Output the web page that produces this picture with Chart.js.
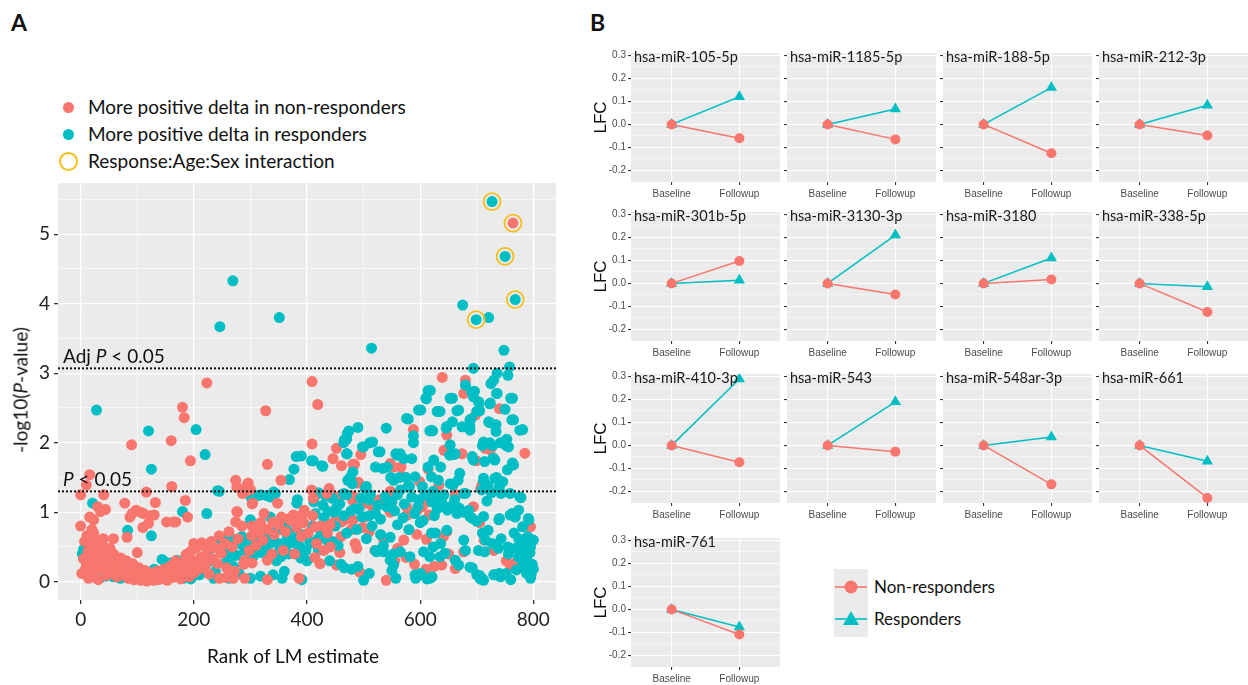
<!DOCTYPE html>
<html>
<head>
<meta charset="utf-8">
<script src="https://cdn.jsdelivr.net/npm/chart.js@4.4.0/dist/chart.umd.min.js"></script>
<style>
  body { margin: 0; width: 1248px; height: 685px; position: relative; overflow: hidden; background: #fff; font-family: Lato, sans-serif; color: #111; }
  .abs { position: absolute; }
  .panelLetter { font: bold 23px Lato; }
  .legA { position: absolute; left: 88px; font: 19px Lato; line-height: 24px; white-space: nowrap; }
  .dotA { position: absolute; width: 11px; height: 11px; border-radius: 50%; }
  .strip { position: absolute; font: 14.5px Lato; line-height: 22px; white-space: nowrap; color: #1a1a1a; }
  .legB { position: absolute; left: 874px; font: 17px Lato; line-height: 22px; white-space: nowrap; }
</style>
</head>
<body>

<div class="abs panelLetter" style="left:11px;top:8px">A</div>
<div class="abs panelLetter" style="left:590px;top:8px">B</div>

<div class="dotA" style="left:63px;top:102px;background:#F8766D"></div>
<div class="legA" style="top:95px">More positive delta in non-responders</div>
<div class="dotA" style="left:63px;top:129px;background:#00BFC4"></div>
<div class="legA" style="top:122px">More positive delta in responders</div>
<div class="dotA" style="left:59px;top:152px;width:15px;height:15px;border:2px solid #F5BE1A;background:none"></div>
<div class="legA" style="top:149px">Response:Age:Sex interaction</div>

<canvas id="chartA" class="abs" style="left:0;top:0" width="580" height="685"></canvas>

<div class="abs" style="left:8px;top:390px;width:0;height:0">
  <div style="position:absolute;transform:translate(-50%,-50%) rotate(-90deg);font:19px Lato;white-space:nowrap;left:12px;top:0">-log10(<i>P</i>-value)</div>
</div>
<div class="abs" style="left:207px;top:644px;font:19px Lato;white-space:nowrap">Rank of LM estimate</div>

<div class="abs" style="left:834px;top:569px;width:34px;height:68px;background:#EBEBEB">
  <svg width="34" height="68">
    <line x1="1" y1="18" x2="33" y2="18" stroke="#F8766D" stroke-width="1.6"/>
    <circle cx="17" cy="18" r="6.5" fill="#F8766D"/>
    <line x1="1" y1="50" x2="33" y2="50" stroke="#00BFC4" stroke-width="1.6"/>
    <polygon points="17,42 25,56 9,56" fill="#00BFC4"/>
  </svg>
</div>
<div class="legB" style="top:576px">Non-responders</div>
<div class="legB" style="top:608px">Responders</div>

<script>
// panel A: [rank of LM estimate, -log10(P)]
const nonRespPts = [
  [764,5.16],[639,2.94],[680,2.90],[677,2.71],[740,2.49],[698,2.40],[223,2.86],[409,2.88],[419,2.55],[180,2.51],
  [183,2.36],[327,2.46],[588,2.19],[90,1.97],[160,2.03],[194,1.74],[330,1.69],[409,1.98],[452,1.92],[446,1.77],
  [495,1.83],[484,1.69],[547,1.70],[566,1.65],[647,2.11],[642,1.89],[674,1.84],[699,1.74],[715,1.92],[724,1.90],
  [785,1.85],[354,1.46],[461,1.67],[481,1.69],[491,1.43],[553,1.65],[599,1.44],[614,1.62],[633,1.39],[662,1.25],
  [707,1.34],[694,1.08],[795,0.79],[647,0.72],[641,0.65],[713,0.60],[677,0.43],[638,0.24],[662,0.19],[759,0.24],
  [0,1.25],[16,1.54],[10,1.39],[41,1.25],[30,1.08],[16,0.93],[44,1.04],[0,0.80],[78,1.13],[87,0.93],
  [98,1.03],[111,0.98],[116,1.29],[132,1.14],[123,0.95],[110,0.78],[152,0.86],[161,1.37],[185,1.17],[189,0.93],
  [168,0.86],[274,1.46],[276,1.36],[292,1.30],[294,1.39],[304,1.13],[324,0.98],[276,1.01],[348,1.13],[395,1.03],
  [369,0.91],[408,1.32],[455,1.18],[439,1.34],[481,1.23],[490,1.42],[516,1.08],[528,1.18],[547,1.30],[569,1.51],
  [576,1.08],[595,1.03],[614,1.16],[631,1.10],[664,1.25],[709,1.39],[35,1.01],[91,0.98],[106,1.00],[130,0.96],
  [23,0.89],[120,0.84],[164,0.86],[23,0.70],[40,0.62],[58,0.62],[82,0.64],[100,0.42],[300,1.33],[296,1.42],
  [286,1.27],[303,1.12],[277,1.00],[274,0.86],[379,0.89],[392,0.97],[376,0.96],[303,0.80],[309,0.75],[318,0.85],
  [340,0.86],[355,0.93],[200,0.55],[188,0.40],[198,0.30],[212,0.35],[290,0.31],[303,0.27],[330,0.31],[245,0.05],
  [257,0.06],[270,0.05],[290,0.05],[330,0.03],[386,0.05],[411,1.20],[435,1.27],[452,1.22],[481,1.17],[505,1.13],
  [529,1.15],[547,1.00],[604,1.08],[616,0.96],[414,0.79],[441,0.82],[461,0.86],[481,0.89],[502,0.93],[577,0.96],
  [571,0.60],[594,0.68],[611,0.61],[417,0.55],[441,0.50],[458,0.42],[488,0.48],[423,0.26],[452,0.24],[493,0.14],
  [540,0.02],[594,0.07],
  [2,0.12],[5,0.33],[7,0.58],[9,0.20],[11,0.66],[13,0.44],[14,0.05],[16,0.27],[19,0.52],[20,0.75],
  [22,0.14],[24,0.38],[25,0.61],[27,0.24],[29,0.47],[31,0.03],[33,0.33],[34,0.57],[37,0.18],[38,0.41],
  [41,0.50],[43,0.28],[46,0.09],[47,0.36],[50,0.22],[52,0.48],[55,0.13],[56,0.31],[59,0.39],[62,0.20],
  [64,0.07],[66,0.29],[69,0.16],[71,0.34],[74,0.09],[76,0.23],[79,0.12],[81,0.30],[84,0.05],[86,0.19],
  [89,0.10],[92,0.26],[94,0.03],[97,0.15],[100,0.07],[103,0.20],[106,0.02],[108,0.11],[111,0.05],[114,0.16],
  [117,0.01],[120,0.09],[123,0.04],[126,0.13],[129,0.02],[132,0.07],[135,0.15],[138,0.03],[141,0.10],[144,0.05],
  [147,0.18],[150,0.07],[153,0.02],[156,0.12],[159,0.23],[162,0.06],[165,0.16],[168,0.30],[171,0.09],[174,0.21],
  [177,0.04],[180,0.27],[183,0.13],[186,0.38],[189,0.19],[192,0.07],[195,0.44],[198,0.24],[201,0.13],[205,0.49],
  [208,0.30],[211,0.19],[214,0.56],[217,0.36],[221,0.24],[224,0.46],[227,0.11],[231,0.58],[234,0.33],[238,0.49],
  [242,0.26],[245,0.66],[249,0.41],
  [255,0.55],[258,0.20],[262,0.72],[268,0.50],[272,0.15],[278,0.62],[285,0.80],[288,0.25],
  [298,0.45],[302,0.66],[310,0.52],[314,0.70],[322,0.60],[330,0.75],
  [338,0.40],[342,0.68],[350,0.82],[358,0.45],[362,0.72],[370,0.88],
  [378,0.40],[382,0.78],[390,0.65],[394,0.85],[402,0.70],[410,0.95],
  [414,0.35],[425,0.80],[430,0.45],[436,0.70],[450,0.88],[460,0.65],[470,0.90],[478,0.75],
  [485,0.55],[498,0.78],[510,0.72],[520,0.45],[535,0.62],[555,0.30],[560,0.48],[575,0.35],[590,0.25],[610,0.18],
  [625,0.22],[650,0.40],[705,0.85],[730,0.45],[752,0.30],[770,0.28]
];

const respPts = [
  [727,5.47],[750,4.68],[768,4.06],[699,3.77],[675,3.98],[721,3.80],[269,4.33],[246,3.67],[351,3.80],[514,3.36],
  [748,3.33],[694,3.07],[758,3.09],[736,3.00],[725,2.85],[730,2.90],[755,2.97],[680,2.83],[696,2.74],[736,2.71],
  [763,2.64],[657,2.64],[618,2.75],[611,2.63],[704,2.57],[724,2.57],[750,2.48],[601,2.47],[635,2.45],[668,2.47],
  [705,2.46],[690,2.34],[579,2.34],[765,2.33],[721,2.30],[657,2.30],[734,2.26],[28,2.47],[120,2.17],[204,2.19],
  [490,2.22],[540,2.21],[620,2.18],[474,2.17],[646,2.21],[674,2.23],[781,2.19],
  [220,1.83],[125,1.62],[411,1.74],[428,1.66],[381,1.80],[390,1.81],[377,1.62],[369,1.47],[465,2.00],[470,2.05],
  [470,1.84],[500,1.94],[516,2.01],[526,1.87],[521,1.65],[542,1.65],[534,1.63],[557,1.84],[565,1.84],[588,2.00],
  [585,1.77],[622,2.17],[647,2.23],[688,2.33],[662,1.84],[652,1.82],[692,1.80],[712,2.01],[734,2.16],[723,2.29],
  [732,1.75],[743,2.00],[753,2.05],[756,1.94],[765,1.68],
  [21,1.13],[83,0.74],[125,0.66],[180,1.01],[223,0.98],[242,1.31],[300,1.23],[313,1.24],[329,1.24],[341,1.29],
  [335,1.22],[300,0.89],[383,1.18],[414,1.23],[433,1.23],[437,1.01],[452,1.06],[465,1.27],[472,1.46],[481,1.58],
  [503,1.34],[509,1.18],[521,0.98],[497,0.93],[541,1.08],[553,1.46],[565,1.32],[579,1.37],[591,1.51],[598,1.18],
  [604,1.37],[623,1.30],[642,1.25],[648,1.03],[658,1.39],[661,1.18],[669,1.06],[680,1.27],[686,1.03],[692,0.91],
  [709,1.32],[718,1.16],[712,1.49],[732,1.49],[740,1.37],[746,1.44],[759,1.27],[778,1.21],[768,0.93],[791,0.91],
  [762,0.98],[740,0.91],[781,0.79],
  [408,1.74],[245,1.30],[318,1.25],[344,1.27],[382,1.13],[335,0.93],[376,0.88],[260,0.64],[272,0.60],[266,0.62],
  [242,0.58],[361,0.79],[355,0.75],[331,0.58],[350,0.55],[365,0.62],[372,0.56],[250,0.43],[275,0.38],[354,0.36],
  [389,0.34],[356,0.05],[391,0.03],[210,0.10],[195,0.04],
  [614,2.75],[610,2.64],[597,2.47],[630,2.45],[576,2.35],[471,2.13],[466,2.04],[588,2.10],[617,2.17],[511,2.00],
  [498,1.94],[471,1.84],[529,1.87],[559,1.82],[571,1.77],[426,1.67],[477,1.51],[480,1.41],[505,1.37],[548,1.50],
  [563,1.50],[575,1.50],[581,1.37],[614,1.65],[620,1.51],[632,1.46],
  [412,1.15],[420,1.28],[428,1.10],[445,1.20],[458,1.12],[470,1.25],[485,1.05],[495,1.20],[512,1.25],[525,1.10],
  [538,1.22],[550,1.15],[560,1.25],[572,1.12],[585,1.22],[596,1.08],[608,1.25],[620,1.15],[630,1.05],
  [415,0.98],[430,0.92],[448,1.00],[465,0.95],[478,1.02],[492,1.05],[510,0.95],[530,0.90],[555,1.02],[570,0.92],
  [590,0.98],[605,0.88],[625,0.95],
  [547,0.64],[565,0.43],[582,0.36],[606,0.43],[617,0.36],[523,0.43],[535,0.43],[466,0.20],[479,0.18],[510,0.12],
  [550,0.16],[557,0.05],[592,0.05],[612,0.04],[500,0.02],[420,0.45],[435,0.60],[455,0.52],[470,0.70],[488,0.75],
  [505,0.62],[515,0.80],[530,0.68],[560,0.82],[580,0.75],[600,0.85],[620,0.70],[440,0.30],[460,0.25],[490,0.22],
  [405,0.55],[410,0.80],[425,0.72],[450,0.80],
  [691,2.73],[694,2.66],[653,2.64],[735,2.71],[760,2.64],[703,2.59],[700,2.45],[723,2.56],[632,2.45],[665,2.46],
  [688,2.23],[688,2.18],[647,2.23],[762,2.33],[776,2.18],[732,2.25],[710,1.96],[723,2.00],[742,2.00],[752,1.96],
  [653,1.97],[659,1.83],[728,1.96],[694,1.75],[714,1.73],[729,1.78],[754,1.61],[763,1.71],[624,1.75],[636,1.65],
  [670,1.56],[667,1.46],[653,1.41],[677,1.27],[712,1.45],[720,1.38],[726,1.28],[735,1.50],[743,1.27],[776,1.22],
  [630,1.20],[638,1.15],[653,1.08],[665,0.98],[677,1.00],[688,0.94],[700,0.87],[712,0.94],[774,1.03],[759,0.96],
  [739,0.89],[792,0.89],[627,0.70],[647,0.74],[677,0.60],[710,0.70],[720,0.74],[715,0.60],[727,0.55],[743,0.62],
  [755,0.50],[766,0.70],[774,0.62],[782,0.55],[790,0.65],[785,0.45],[703,0.45],[714,0.43],[738,0.48],[635,0.36],
  [644,0.41],[662,0.31],[668,0.24],[700,0.10],[706,0.04],[712,0.02],[730,0.10],[742,0.07],[752,0.12],[770,0.17],
  [780,0.20],[792,0.15],[795,0.05],[760,0.03],[621,0.07],[688,0.21],[785,0.30],[790,0.38],[795,0.50],[798,0.25],
  [800,0.60],[788,0.12],[778,0.40],
  [521,0.45],[535,0.52],[553,0.40],[547,0.31],[553,0.24],[591,0.10],[601,0.12],[617,0.05],[623,0.50],[636,0.55],
  [680,0.45],[692,0.20],[705,0.09],[709,0.05],[731,0.10],[740,0.12],[756,0.40],[768,0.48],[774,0.35],[781,0.30],
  [787,0.52],[794,0.42],[800,0.18],[796,0.10],
  [5,0.46],[8,0.31],[17,0.07],[144,0.32],[159,0.27],[170,0.31],[190,0.31],[58,0.07],[35,0.06],[3,0.40],
  [10,0.22],[14,0.50],[28,0.10],[45,0.08],[70,0.05],[100,0.10],[130,0.18],[150,0.28],[165,0.12],[182,0.05],
  [200,0.10],[215,0.20],[225,0.40],[232,0.30],[238,0.15],[252,0.58],[258,0.30],[264,0.48],[270,0.22],[280,0.55],
  [285,0.65],[290,0.45],[296,0.35],[305,0.60],[312,0.50],[320,0.42],[325,0.70],[338,0.65],[345,0.80],[352,0.48],
  [360,0.55],[368,0.40],[375,0.72],[380,0.62],[385,0.45],[395,0.68],[400,0.30],[360,0.15],[340,0.10],[318,0.08],
  [300,0.05],[280,0.12],[262,0.05],[235,0.05],[265,0.35],[295,0.58],[306,0.38],[326,0.48],[334,0.55],[346,0.30],
  [366,0.55],[374,0.62],[386,0.52],[398,0.45],[405,0.58],[420,0.62],[445,0.58]
];

const interactionPts = [[727,5.47],[764,5.16],[750,4.68],[768,4.06],[699,3.77]];
const adjCut = 3.07;
const pCut = 1.30;
const rankTicks = [0,100,200,300,400,500,600,700,800];
const logTicks = [0,0.5,1,1.5,2,2.5,3,3.5,4,4.5,5,5.5];
const layerSplit = 450;   // below this rank the red points sit on top

// panel B: log fold change at follow-up (baseline is 0)
const mirNames = ['hsa-miR-105-5p','hsa-miR-1185-5p','hsa-miR-188-5p','hsa-miR-212-3p',
  'hsa-miR-301b-5p','hsa-miR-3130-3p','hsa-miR-3180','hsa-miR-338-5p',
  'hsa-miR-410-3p','hsa-miR-543','hsa-miR-548ar-3p','hsa-miR-661','hsa-miR-761'];
const timepoints = ['Baseline','Followup'];
const nonRespBase = [0,0,0,0,0,0,0,0,0,0,0,0,0];
const respBase = [0,0,0,0,0,0,0,0,0,0,0,0,0];
const nonRespFollow = [-0.06,-0.065,-0.125,-0.048,0.097,-0.048,0.017,-0.124,-0.073,-0.027,-0.169,-0.228,-0.109];
const respFollow = [0.12,0.067,0.16,0.083,0.014,0.21,0.11,-0.015,0.288,0.189,0.037,-0.069,-0.076];
const lfcTicks = [-0.2,-0.15,-0.1,-0.05,0,0.05,0.1,0.15,0.2,0.25,0.3];

const RED = '#F8766D';
const TEAL = '#00BFC4';

const grayBg = {
  id: 'grayBg',
  beforeDraw(chart) {
    const a = chart.chartArea;
    const c = chart.ctx;
    c.save();
    c.fillStyle = '#EBEBEB';
    c.fillRect(a.left, a.top, a.right - a.left, a.bottom - a.top);
    c.restore();
  }
};

function drawCut(c, x, y, pre) {
  c.save();
  c.fillStyle = '#111';
  c.textBaseline = 'alphabetic';
  c.font = '19px Lato';
  c.fillText(pre, x, y);
  x += c.measureText(pre).width;
  c.font = 'italic 19px Lato';
  c.fillText('P', x, y);
  x += c.measureText('P').width;
  c.font = '19px Lato';
  c.fillText(' < 0.05', x, y);
  c.restore();
}

const cutLabels = {
  id: 'cutLabels',
  afterDatasetsDraw(chart) {
    const y = chart.scales.y;
    const x0 = chart.chartArea.left + 5;
    drawCut(chart.ctx, x0, y.getPixelForValue(adjCut) - 5, 'Adj ');
    drawCut(chart.ctx, x0, y.getPixelForValue(pCut) - 5, '');
  }
};

const toXY = p => ({ x: p[0], y: p[1] });
const lineAt = v => [{ x: -40, y: v }, { x: 840, y: v }];
const isMajor = (v, step) => Math.abs(v / step - Math.round(v / step)) < 1e-6;
const dotSet = (pts, color, order) => ({ data: pts.map(toXY), pointRadius: 5.5, borderWidth: 0, backgroundColor: color, borderColor: color, order: order });

new Chart(document.getElementById('chartA'), {
  type: 'scatter',
  data: {
    datasets: [
      { data: lineAt(adjCut), showLine: true, borderColor: '#111', borderWidth: 2, borderDash: [2, 2], pointRadius: 0, order: 0 },
      { data: lineAt(pCut), showLine: true, borderColor: '#111', borderWidth: 2, borderDash: [2, 2], pointRadius: 0, order: 0 },
      { data: interactionPts.map(toXY), pointRadius: 8.5, borderWidth: 1.8, borderColor: '#F5BE1A', backgroundColor: 'rgba(0,0,0,0)', order: 1 },
      dotSet(nonRespPts.filter(p => p[0] < layerSplit), RED, 2),
      dotSet(respPts, TEAL, 3),
      dotSet(nonRespPts.filter(p => p[0] >= layerSplit), RED, 4)
    ]
  },
  options: {
    responsive: false,
    animation: false,
    events: [],
    layout: { padding: { top: 183, right: 24, left: 0, bottom: 0 }, autoPadding: false },
    plugins: { legend: { display: false }, tooltip: { enabled: false } },
    scales: {
      x: {
        type: 'linear', min: -40, max: 840,
        afterBuildTicks: s => { s.ticks = rankTicks.map(v => ({ value: v })); },
        afterFit: s => { s.height = 85; },
        border: { display: false },
        grid: {
          color: '#fff',
          lineWidth: c => (c.tick && isMajor(c.tick.value, 200)) ? 1.3 : 0.6,
          tickColor: c => (c.tick && isMajor(c.tick.value, 200)) ? '#333' : 'rgba(0,0,0,0)',
          tickLength: 4
        },
        ticks: { autoSkip: false, maxRotation: 0, padding: 4, color: '#222', font: { family: 'Lato', size: 19 },
          callback: v => isMajor(v, 200) ? String(v) : '' }
      },
      y: {
        type: 'linear', min: -0.263, max: 5.737,
        afterBuildTicks: s => { s.ticks = logTicks.map(v => ({ value: v })); },
        afterFit: s => { s.width = 58; },
        border: { display: false },
        grid: {
          color: '#fff',
          lineWidth: c => (c.tick && isMajor(c.tick.value, 1)) ? 1.3 : 0.6,
          tickColor: c => (c.tick && isMajor(c.tick.value, 1)) ? '#333' : 'rgba(0,0,0,0)',
          tickLength: 4
        },
        ticks: { autoSkip: false, padding: 4, color: '#222', font: { family: 'Lato', size: 19 },
          callback: v => isMajor(v, 1) ? String(v) : '' }
      }
    }
  },
  plugins: [grayBg, cutLabels]
});

// panel B small multiples
const colLeft = [631, 787, 943, 1099];
const rowTop = [45, 204, 366, 530];
const cellW = 149;
const cellH = 137;

mirNames.forEach((name, i) => {
  const col = i % 4;
  const row = Math.floor(i / 4);
  const padL = col === 0 ? 45 : 5;
  const cv = document.createElement('canvas');
  cv.width = cellW + padL;
  cv.height = cellH + 26;
  cv.className = 'abs';
  cv.style.left = (colLeft[col] - padL) + 'px';
  cv.style.top = rowTop[row] + 'px';
  document.body.appendChild(cv);

  const strip = document.createElement('div');
  strip.className = 'strip';
  strip.style.left = (colLeft[col] + 3) + 'px';
  strip.style.top = (rowTop[row] + 1) + 'px';
  strip.textContent = name;
  document.body.appendChild(strip);

  new Chart(cv, {
    type: 'scatter',
    data: {
      datasets: [
        { label: 'Non-responders', data: [{ x: 1, y: nonRespBase[i] }, { x: 2, y: nonRespFollow[i] }], showLine: true,
          borderColor: RED, borderWidth: 1.5, pointStyle: 'circle', pointRadius: 5, pointBorderWidth: 0, pointBackgroundColor: RED },
        { label: 'Responders', data: [{ x: 1, y: respBase[i] }, { x: 2, y: respFollow[i] }], showLine: true,
          borderColor: TEAL, borderWidth: 1.5, pointStyle: 'triangle', pointRadius: 6.5, pointBorderWidth: 0, pointBackgroundColor: TEAL }
      ]
    },
    options: {
      responsive: false,
      animation: false,
      events: [],
      layout: { padding: 0, autoPadding: false },
      plugins: { legend: { display: false }, tooltip: { enabled: false } },
      scales: {
        x: {
          type: 'linear', min: 0.4, max: 2.6,
          afterBuildTicks: s => { s.ticks = [1, 2].map(v => ({ value: v })); },
          afterFit: s => { s.height = 26; },
          border: { display: false },
          grid: { color: '#fff', lineWidth: 1.1, tickColor: '#333', tickLength: 3 },
          ticks: { autoSkip: false, maxRotation: 0, padding: 3, color: '#4D4D4D', font: { family: 'Liberation Sans', size: 10 },
            callback: v => timepoints[v - 1] }
        },
        y: {
          type: 'linear', min: -0.25, max: 0.31,
          afterBuildTicks: s => { s.ticks = lfcTicks.map(v => ({ value: v })); },
          afterFit: s => { s.width = padL; },
          border: { display: false },
          title: { display: col === 0, text: 'LFC', color: '#111', font: { family: 'Liberation Sans', size: 17 }, padding: { top: 5, bottom: 0 } },
          grid: {
            color: '#fff',
            lineWidth: c => (c.tick && isMajor(c.tick.value, 0.1)) ? 1.1 : 0.5,
            tickColor: c => (c.tick && isMajor(c.tick.value, 0.1)) ? '#333' : 'rgba(0,0,0,0)',
            tickLength: 3
          },
          ticks: { autoSkip: false, padding: 2, color: '#4D4D4D', font: { family: 'Liberation Sans', size: 10 },
            callback: v => (col === 0 && isMajor(v, 0.1)) ? v.toFixed(1) : '' }
        }
      }
    },
    plugins: [grayBg]
  });
});
</script>
</body>
</html>
